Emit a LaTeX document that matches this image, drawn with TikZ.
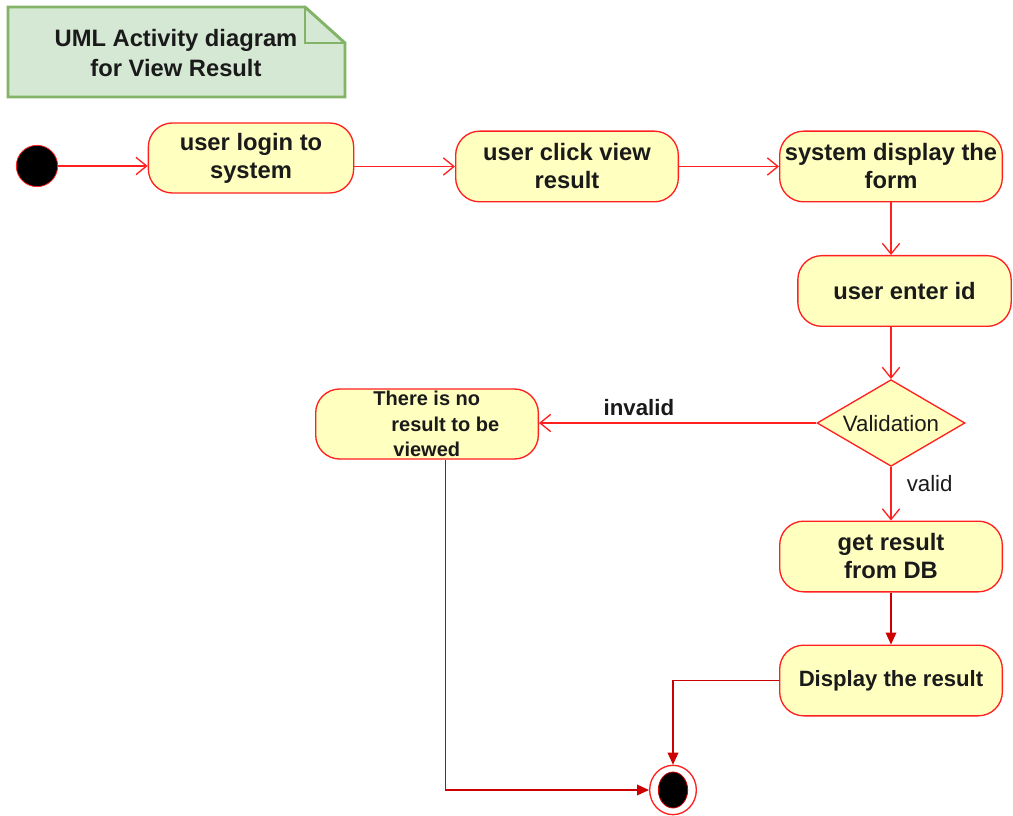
\documentclass[tikz,border=0pt]{standalone}
\usepackage{fontspec}
\setmainfont{Liberation Sans}
\usepackage{tikz}
\usetikzlibrary{arrows.meta,shapes.geometric}
\definecolor{ink}{HTML}{1A1A1A}
\definecolor{edge}{HTML}{FF2020}
\definecolor{dark}{HTML}{CC0000}
\definecolor{act}{HTML}{FFFFC0}
\definecolor{notefill}{HTML}{D5E8D4}
\definecolor{noteline}{HTML}{82B366}
\tikzset{
  action/.style={draw=edge, fill=act, line width=1pt, rounded corners=18pt,
    minimum width=167pt, minimum height=53pt, inner sep=1pt,
    text=ink, align=center, font=\bfseries\fontsize{17.8}{21}\selectfont},
  decision/.style={draw=edge, fill=act, line width=1pt, diamond, inner sep=0pt,
    minimum width=111pt, minimum height=65pt, text=ink, font=\fontsize{16.7}{18}\selectfont},
  start/.style={circle, fill=black, draw=edge, line width=0.6pt, minimum size=31pt, inner sep=0pt},
  flow/.style={draw=edge, line width=1pt, -{Straight Barb[length=8pt,width=13pt]}},
  back/.style={draw=dark, line width=1pt, -{Triangle[length=9pt,width=8pt]}},
  lab/.style={text=ink, font=\fontsize{16.7}{18}\selectfont},
}
\begin{document}
\begin{tikzpicture}[x=0.75pt,y=-0.75pt]
  \useasboundingbox (0,0) rectangle (1013,816);
  % note
  \draw[fill=notefill, draw=noteline, line width=2.2pt]
    (8,7) -- (305,7) -- (345,43) -- (345,97) -- (8,97) -- cycle;
  \draw[draw=noteline, line width=2.2pt] (305,7) -- (305,43) -- (345,43);
  \node[text=ink, align=center, font=\bfseries\fontsize{17.8}{22}\selectfont] (title) at (176,53)
    {UML Activity diagram\\for View Result};
  % nodes
  \node[start] (init) at (37,166) {};
  \node[action, minimum width=154pt, minimum height=52.5pt] (login) at (251,158) {user login to\\system};
  \node[action] (click) at (567,166.5) {user click view\\result};
  \node[action] (form) at (891,166.5) {system display the\\form};
  \node[action, minimum width=160pt] (enter) at (904.5,291) {user enter id};
  \node[decision] (check) at (891,423) {\smash{\raisebox{-6pt}{\makebox[0pt]{Validation}}}};
  \node[action, minimum height=52.5pt, align=left, font=\bfseries\fontsize{15}{19}\selectfont] (nores) at (427,424)
    {\hspace*{14pt}There is no\\\hspace*{27.5pt}result to be\\\hspace*{29pt}viewed};
  \node[action] (getres) at (891,556.5) {get result\\from DB};
  \node[action, font=\bfseries\fontsize{16.6}{20}\selectfont] (show) at (891,680.5) {Display the result};
  \node[ellipse, draw=edge, fill=white, line width=1pt, minimum width=35pt, minimum height=37pt, inner sep=0pt] (final) at (673,790) {};
  \node[ellipse, fill=black, draw=dark, line width=0.6pt, minimum width=22pt, minimum height=27pt, inner sep=0pt] at (final) {};
  % edges
  \draw[flow] (init) -- (init -| login.west);
  \draw[flow] (login.east |- click) -- (click.west);
  \draw[flow] (click) -- (form);
  \draw[flow] (form.south) -- (form.south |- enter.north);
  \draw[flow] (enter.south -| check) -- (check.north);
  \draw[flow] (check.west) -- node[lab, pos=0.64, above=2pt, font=\bfseries\fontsize{16.7}{18}\selectfont] {invalid} (nores.east |- check);
  \draw[flow] (check.south) -- node[lab, pos=0.3, right=8pt] {valid} (getres.north);
  \draw[back] (getres) -- (show);
  \draw[back] (show.west) -| (final.north);
  \draw[back] ([xshift=14pt]nores.south) |- (final.west);
\end{tikzpicture}
\end{document}
